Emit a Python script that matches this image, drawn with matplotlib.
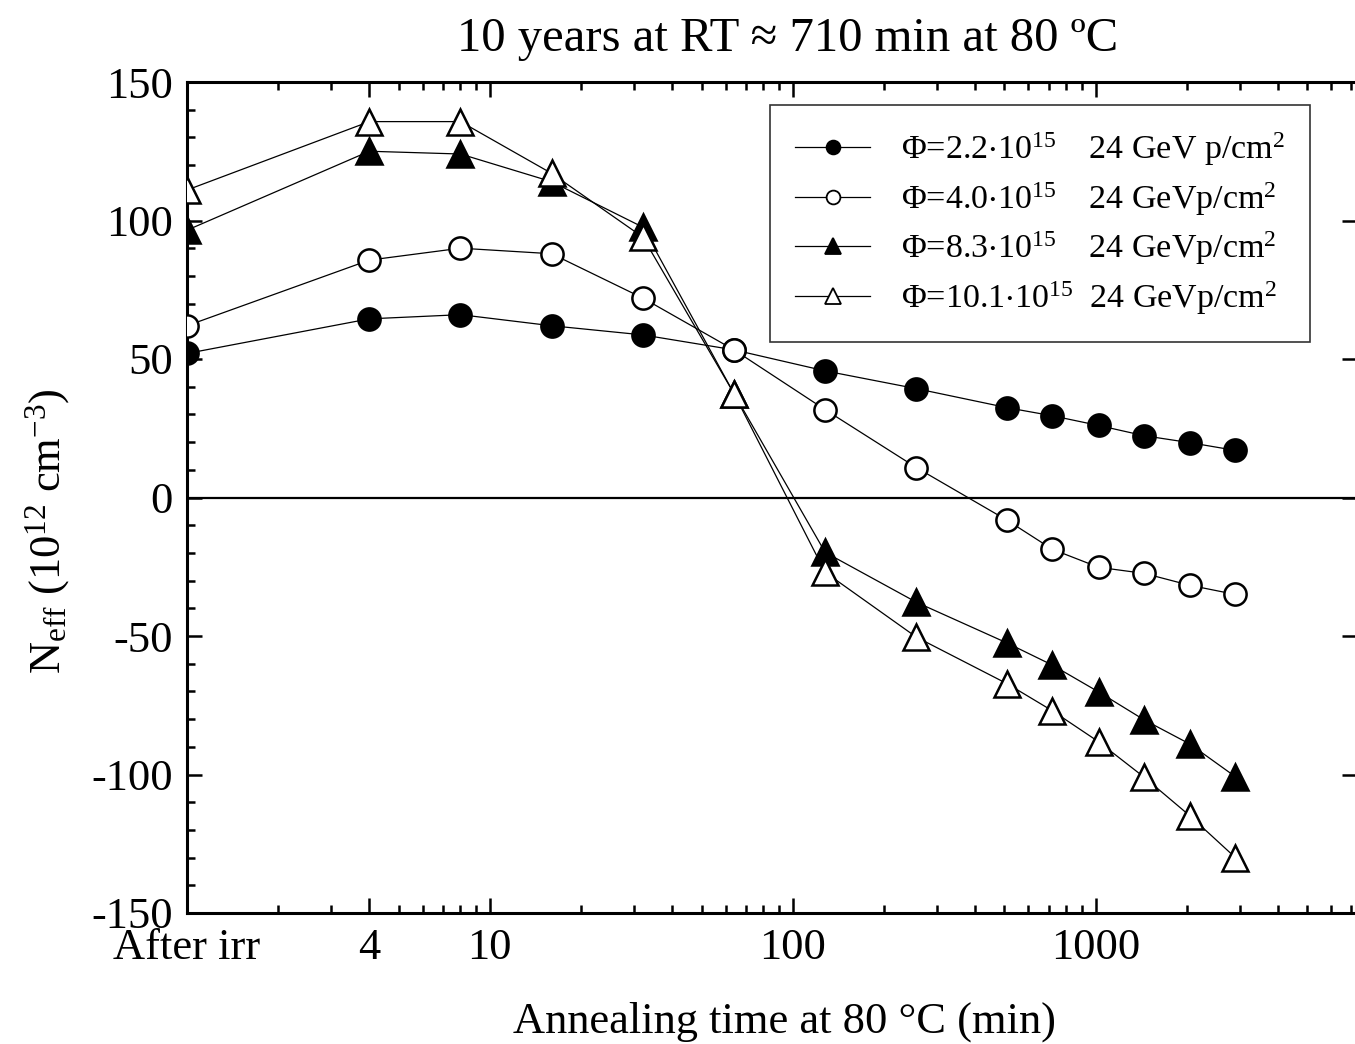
import matplotlib
matplotlib.use('Agg')
import matplotlib.pyplot as plt
from matplotlib.lines import Line2D
from matplotlib.ticker import FixedLocator, LogLocator, NullFormatter, MultipleLocator

plt.rcParams.update({
    'font.family': 'serif',
    'font.serif': ['Liberation Serif', 'DejaVu Serif'],
    'mathtext.fontset': 'custom',
    'mathtext.rm': 'Liberation Serif',
    'mathtext.it': 'Liberation Serif:italic',
    'mathtext.default': 'regular',
    'axes.unicode_minus': False,
})

# annealing time at 80 C (min); "After irr" drawn at 1
t_min = [1, 4, 8, 16, 32, 64, 128, 256, 512, 720, 1024, 1448, 2048, 2896]
neff_22 = [52, 64.5, 66, 62, 58.7, 53.3, 45.7, 39.3, 32.4, 29.5, 26, 22.3, 19.8, 17]
neff_40 = [62, 85.7, 90, 88, 72, 53.3, 31.7, 10.8, -8.3, -18.7, -25.2, -27.4, -31.7, -35]
neff_83 = [96.5, 125, 124, 114, 97.6, 37.5, -19.8, -37.8, -52.6, -60.5, -70.2, -80.3, -89, -100.8]
neff_101 = [111, 135.7, 135.7, 117, 94, 37.5, -27, -50.4, -67.3, -77, -88.2, -101, -114.9, -130]

# labels; the spacing lines the "24 GeV" column up like in the original
legend_labels = [
    r'$\Phi$=2.2$\cdot$10$^{15}\ \ \enspace\,$24 GeV p/cm$^{2}$',
    r'$\Phi$=4.0$\cdot$10$^{15}\ \ \enspace\,$24 GeVp/cm$^{2}$',
    r'$\Phi$=8.3$\cdot$10$^{15}\ \ \enspace\,$24 GeVp/cm$^{2}$',
    r'$\Phi$=10.1$\cdot$10$^{15}\ \ $24 GeVp/cm$^{2}$',
]

tick_pos = [1, 4, 10, 100, 1000]
tick_labels = ['After irr', '4', '10', '100', '1000']

fig = plt.figure(figsize=(13.55, 10.44), dpi=100)
ax = fig.add_axes([187 / 1355, 1 - 913 / 1044, (1357 - 187) / 1355, 831 / 1044])

styles = [('o', 'black', 16), ('o', 'white', 16), ('^', 'black', 19), ('^', 'white', 19)]
series = [neff_22, neff_40, neff_83, neff_101]
handles = []
for y, (m, fc, ms) in zip(series, styles):
    ax.plot(t_min, y, color='black', lw=0.9, marker=m, ms=ms, mfc=fc, mec='black', mew=1.8, zorder=3)
    handles.append(Line2D([], [], color='black', lw=0.9, marker=m, ms=ms * 0.62,
                          mfc=fc, mec='black', mew=1.3))

ax.axhline(0, color='black', lw=1.6, zorder=2)

ax.set_xscale('log')
ax.set_xlim(1, 7300)
ax.set_ylim(-150, 150)

ax.xaxis.set_major_locator(FixedLocator(tick_pos))
ax.set_xticklabels(tick_labels)
ax.xaxis.set_minor_locator(LogLocator(base=10, subs=range(2, 10), numticks=20))
ax.xaxis.set_minor_formatter(NullFormatter())
ax.yaxis.set_major_locator(MultipleLocator(50))
ax.yaxis.set_minor_locator(MultipleLocator(10))

for s in ax.spines.values():
    s.set_linewidth(2.2)

ax.tick_params(which='both', direction='in', width=1.8, labelsize=32, top=True, right=True)
ax.tick_params(which='major', length=11)
ax.tick_params(which='minor', length=6)
ax.tick_params(axis='y', which='minor', right=False)
ax.tick_params(axis='y', pad=10)
ax.tick_params(axis='x', pad=11)

ax.set_xlabel('Annealing time at 80 °C (min)', fontsize=32)
ax.xaxis.set_label_coords(0.511, -0.107)
ax.set_ylabel(r'N$_{eff}$ (10$^{12}$ cm$^{-3}$)', fontsize=32)
ax.yaxis.set_label_coords(-0.098, 0.46)
ax.set_title('10 years at RT ≈ 710 min at 80 ºC', fontsize=35, pad=22, x=0.513)

leg = ax.legend(handles, legend_labels, loc='upper right', bbox_to_anchor=(0.96, 0.972),
                borderaxespad=0, fontsize=24.5, handlelength=2.2, handletextpad=0.9,
                labelspacing=0.35, borderpad=0.75, fancybox=False, frameon=True,
                edgecolor='black')
leg.get_frame().set_linewidth(1.2)

fig.savefig('out.png', dpi=100)
